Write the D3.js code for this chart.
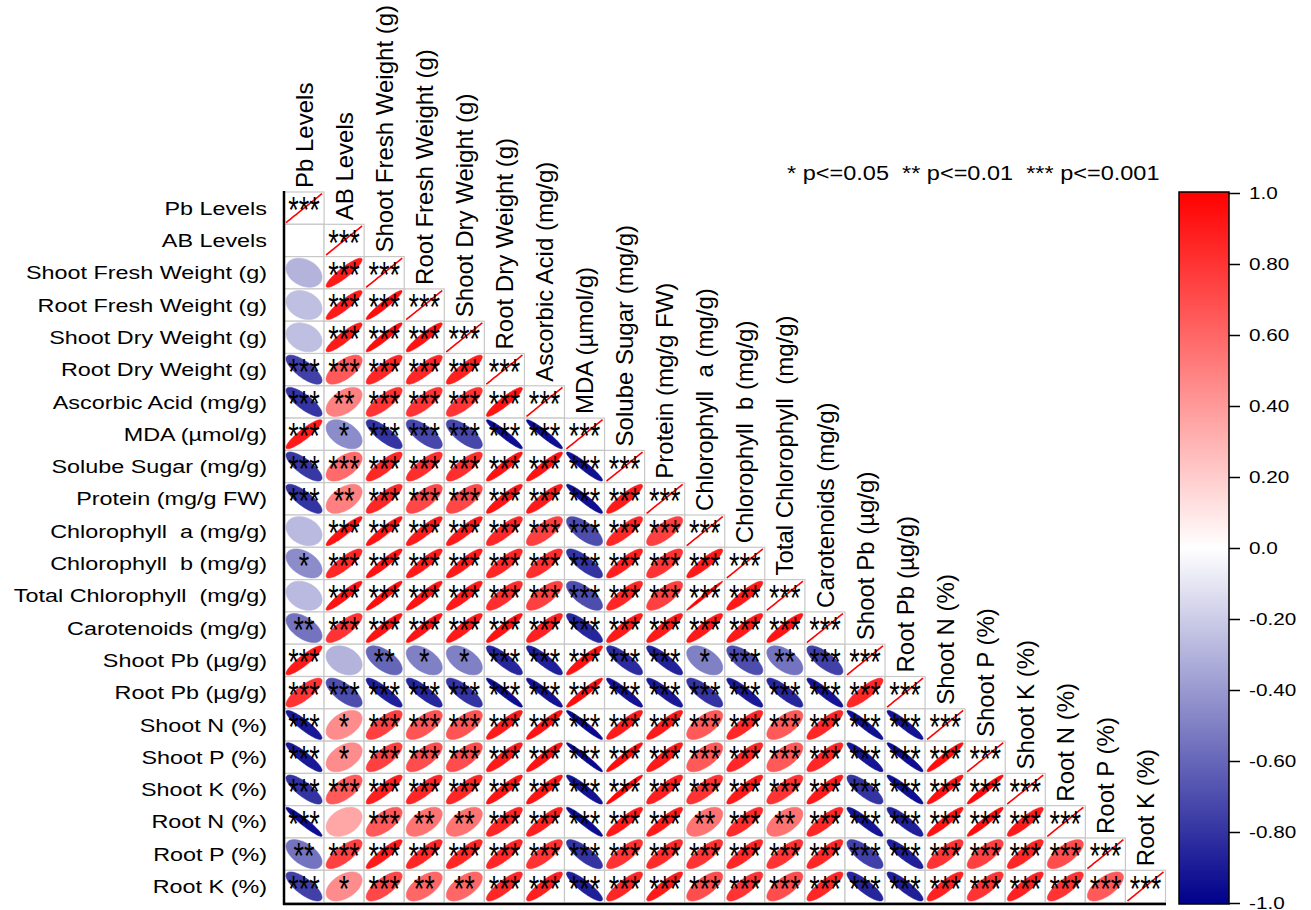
<!DOCTYPE html>
<html>
<head>
<meta charset="utf-8">
<script src="https://cdn.jsdelivr.net/npm/d3@7"></script>
<style>
    body { margin: 0; background: #fff; }
    text { font-family: "Liberation Sans", Arial, sans-serif; white-space: pre; }
</style>
</head>
<body>
<div id="chart"></div>
<script>
(function () {
    "use strict";

    const labels = [
        "Pb Levels", "AB Levels", "Shoot Fresh Weight (g)", "Root Fresh Weight (g)",
        "Shoot Dry Weight (g)", "Root Dry Weight (g)", "Ascorbic Acid (mg/g)", "MDA (µmol/g)",
        "Solube Sugar (mg/g)", "Protein (mg/g FW)", "Chlorophyll  a (mg/g)", "Chlorophyll  b (mg/g)",
        "Total Chlorophyll  (mg/g)", "Carotenoids (mg/g)", "Shoot Pb (µg/g)", "Root Pb (µg/g)",
        "Shoot N (%)", "Shoot P (%)", "Shoot K (%)", "Root N (%)", "Root P (%)", "Root K (%)"
    ];

    // lower triangle of the correlation matrix, row by row (diagonal included)
    const corrLower = [
        [1],
        [0, 1],
        [-0.3, 0.9, 1],
        [-0.25, 0.9, 0.95, 1],
        [-0.25, 0.9, 0.95, 0.93, 1],
        [-0.75, 0.65, 0.85, 0.85, 0.88, 1],
        [-0.8, 0.5, 0.8, 0.8, 0.8, 0.92, 1],
        [0.9, -0.45, -0.8, -0.72, -0.72, -0.95, -0.95, 1],
        [-0.78, 0.58, 0.85, 0.82, 0.82, 0.93, 0.93, -0.94, 1],
        [-0.8, 0.5, 0.85, 0.72, 0.72, 0.92, 0.9, -0.94, 0.9, 1],
        [-0.27, 0.93, 0.93, 0.9, 0.9, 0.85, 0.75, -0.7, 0.85, 0.75, 1],
        [-0.45, 0.85, 0.93, 0.9, 0.9, 0.85, 0.82, -0.8, 0.88, 0.8, 0.9, 1],
        [-0.27, 0.93, 0.95, 0.93, 0.9, 0.82, 0.75, -0.7, 0.85, 0.75, 0.99, 0.9, 1],
        [-0.55, 0.8, 0.93, 0.93, 0.9, 0.93, 0.87, -0.85, 0.9, 0.9, 0.9, 0.9, 0.92, 1],
        [0.9, -0.3, -0.6, -0.5, -0.5, -0.85, -0.88, 0.93, -0.83, -0.87, -0.5, -0.7, -0.55, -0.75, 1],
        [0.8, -0.7, -0.88, -0.85, -0.8, -0.95, -0.93, 0.95, -0.93, -0.9, -0.8, -0.9, -0.85, -0.92, 0.85, 1],
        [-0.9, 0.45, 0.75, 0.67, 0.67, 0.9, 0.93, -0.96, 0.9, 0.9, 0.65, 0.85, 0.65, 0.85, -0.94, -0.93, 1],
        [-0.9, 0.45, 0.75, 0.7, 0.7, 0.9, 0.93, -0.97, 0.95, 0.9, 0.65, 0.85, 0.65, 0.85, -0.92, -0.95, 0.95, 1],
        [-0.8, 0.65, 0.88, 0.85, 0.85, 0.92, 0.92, -0.93, 0.97, 0.88, 0.8, 0.9, 0.8, 0.9, -0.8, -0.94, 0.94, 0.96, 1],
        [-0.95, 0.35, 0.65, 0.55, 0.55, 0.85, 0.88, -0.95, 0.9, 0.9, 0.55, 0.83, 0.55, 0.85, -0.92, -0.88, 0.93, 0.95, 0.9, 1],
        [-0.55, 0.75, 0.9, 0.85, 0.85, 0.85, 0.8, -0.8, 0.8, 0.83, 0.8, 0.85, 0.8, 0.85, -0.75, -0.88, 0.8, 0.75, 0.85, 0.7, 1],
        [-0.75, 0.45, 0.72, 0.6, 0.6, 0.85, 0.88, -0.88, 0.85, 0.9, 0.7, 0.8, 0.7, 0.85, -0.85, -0.88, 0.87, 0.8, 0.87, 0.8, 0.65, 1]
    ];

    // number of significance stars per cell, same layout as corrLower
    const starsLower = [
        [3],
        [0, 3],
        [0, 3, 3],
        [0, 3, 3, 3],
        [0, 3, 3, 3, 3],
        [3, 3, 3, 3, 3, 3],
        [3, 2, 3, 3, 3, 3, 3],
        [3, 1, 3, 3, 3, 3, 3, 3],
        [3, 3, 3, 3, 3, 3, 3, 3, 3],
        [3, 2, 3, 3, 3, 3, 3, 3, 3, 3],
        [0, 3, 3, 3, 3, 3, 3, 3, 3, 3, 3],
        [1, 3, 3, 3, 3, 3, 3, 3, 3, 3, 3, 3],
        [0, 3, 3, 3, 3, 3, 3, 3, 3, 3, 3, 3, 3],
        [2, 3, 3, 3, 3, 3, 3, 3, 3, 3, 3, 3, 3, 3],
        [3, 0, 2, 1, 1, 3, 3, 3, 3, 3, 1, 3, 2, 3, 3],
        [3, 3, 3, 3, 3, 3, 3, 3, 3, 3, 3, 3, 3, 3, 3, 3],
        [3, 1, 3, 3, 3, 3, 3, 3, 3, 3, 3, 3, 3, 3, 3, 3, 3],
        [3, 1, 3, 3, 3, 3, 3, 3, 3, 3, 3, 3, 3, 3, 3, 3, 3, 3],
        [3, 3, 3, 3, 3, 3, 3, 3, 3, 3, 3, 3, 3, 3, 3, 3, 3, 3, 3],
        [3, 0, 3, 2, 2, 3, 3, 3, 3, 3, 2, 3, 2, 3, 3, 3, 3, 3, 3, 3],
        [2, 3, 3, 3, 3, 3, 3, 3, 3, 3, 3, 3, 3, 3, 3, 3, 3, 3, 3, 3, 3],
        [3, 1, 3, 2, 2, 3, 3, 3, 3, 3, 3, 3, 3, 3, 3, 3, 3, 3, 3, 3, 3, 3]
    ];

    const barTicks = [1, 0.8, 0.6, 0.4, 0.2, 0, -0.2, -0.4, -0.6, -0.8, -1];
    const barTickLabels = ["1.0", "0.80", "0.60", "0.40", "0.20", "0.0", "-0.20", "-0.40", "-0.60", "-0.80", "-1.0"];
    const legendText = "* p<=0.05  ** p<=0.01  *** p<=0.001";

    let svg = d3.select("#chart").append("svg").attr("width", 1311).attr("height", 910);

    let x = d3.scaleBand().domain(d3.range(labels.length)).range([284, 1165.5]);
    let y = d3.scaleBand().domain(d3.range(labels.length)).range([192, 902.6]);
    let color = d3.scaleLinear().domain([-1, 0, 1]).range(["#00008b", "#ffffff", "#ff0000"]);

    let cells = [];
    corrLower.forEach((row, i) => {
        row.forEach((r, j) => cells.push({ i: i, j: j, r: r, stars: starsLower[i][j] }));
    });

    let cw = x.bandwidth();
    let ch = y.bandwidth();

    // ellipse outline for a correlation, corrplot style
    let ellipse = (r) => {
        let d = Math.acos(Math.max(-1, Math.min(1, r)));
        let pts = d3.range(0, 73).map((k) => {
            let t = (k / 72) * 2 * Math.PI;
            return [0.45 * cw * Math.cos(t + d / 2), -0.45 * ch * Math.cos(t - d / 2)];
        });
        return d3.line()(pts) + "Z";
    };

    let cellG = svg.append("g")
        .selectAll("g")
        .data(cells)
        .enter()
        .append("g")
        .attr("transform", (d) => `translate(${x(d.j)},${y(d.i)})`);

    cellG.append("rect")
        .attr("width", cw)
        .attr("height", ch)
        .attr("fill", "#fff")
        .attr("stroke", "#c8c8c8")
        .attr("stroke-width", 1.2);

    cellG.append("path")
        .attr("transform", `translate(${cw / 2},${ch / 2})`)
        .attr("d", (d) => ellipse(d.r))
        .attr("fill", (d) => color(d.r))
        .attr("stroke", (d) => color(d.r))
        .attr("stroke-width", (d) => (d.i === d.j ? 1.6 : 0.6));

    cellG.filter((d) => d.stars > 0)
        .append("text")
        .attr("transform", `translate(${cw / 2},9.5) scale(1,1.4)`)
        .attr("y", 15.5)
        .attr("text-anchor", "middle")
        .attr("font-size", 27)
        .attr("fill", "#000")
        .text((d) => "*".repeat(d.stars));

    // frame lines on the left and bottom
    svg.append("line")
        .attr("x1", 284).attr("x2", 284)
        .attr("y1", 191).attr("y2", 905)
        .attr("stroke", "#000").attr("stroke-width", 2.5);
    svg.append("line")
        .attr("x1", 283).attr("x2", 1166)
        .attr("y1", 904).attr("y2", 904)
        .attr("stroke", "#000").attr("stroke-width", 2.5);

    // row labels
    svg.append("g")
        .selectAll("text")
        .data(labels)
        .enter()
        .append("text")
        .attr("transform", (d, i) => `translate(267,${y(i) + ch / 2}) scale(1.25,1)`)
        .attr("dy", "0.35em")
        .attr("text-anchor", "end")
        .attr("font-size", 18.7)
        .text((d) => d);

    // column labels sit above the diagonal cells
    svg.append("g")
        .selectAll("text")
        .data(labels)
        .enter()
        .append("text")
        .attr("transform", (d, i) => `translate(${x(i) + cw / 2 + 8.6},${y(i) - 4}) rotate(-90)`)
        .attr("text-anchor", "start")
        .attr("font-size", 24)
        .text((d) => d);

    svg.append("text")
        .attr("transform", "translate(787,180) scale(1.12,1)")
        .attr("font-size", 21)
        .text(legendText);

    // colour bar
    let cbar = d3.scaleLinear().domain([-1, 1]).range([903, 193]);
    let grad = svg.append("defs").append("linearGradient")
        .attr("id", "cbarGrad")
        .attr("x1", 0).attr("x2", 0).attr("y1", 0).attr("y2", 1);
    grad.append("stop").attr("offset", "0%").attr("stop-color", color(1));
    grad.append("stop").attr("offset", "50%").attr("stop-color", color(0));
    grad.append("stop").attr("offset", "100%").attr("stop-color", color(-1));

    svg.append("rect")
        .attr("x", 1179).attr("width", 50)
        .attr("y", cbar(1) - 1).attr("height", cbar(-1) - cbar(1) + 2)
        .attr("fill", "url(#cbarGrad)")
        .attr("stroke", "#000")
        .attr("stroke-width", 1.5);

    svg.append("g")
        .attr("transform", "translate(1229,0)")
        .call(d3.axisRight(cbar).tickValues(barTicks).tickSize(11).tickFormat((d, i) => barTickLabels[i]))
        .call((g) => g.select(".domain").remove())
        .call((g) => g.selectAll("line").attr("stroke-width", 1.5))
        .call((g) => g.selectAll("text")
            .attr("x", 16.4)
            .attr("transform", "scale(1.22,1)")
            .attr("font-size", 17)
            .attr("font-family", "Liberation Sans, Arial, sans-serif")
            .attr("fill", "#000"));
})();
</script>
</body>
</html>
